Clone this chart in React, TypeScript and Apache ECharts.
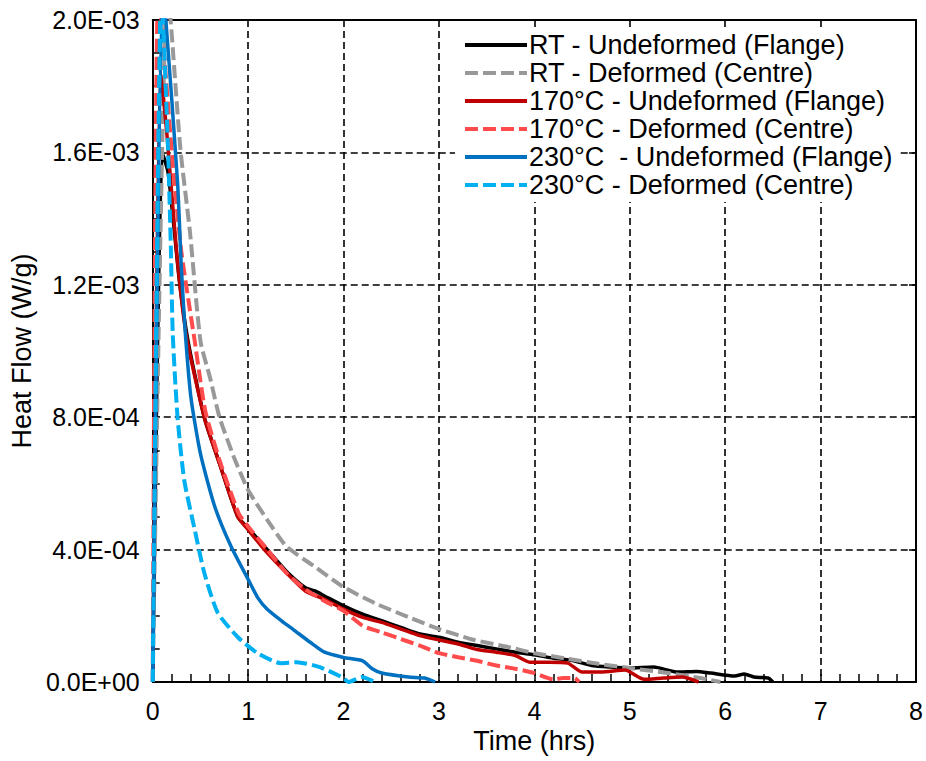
import React, { useEffect, useRef } from "react";
import * as echarts from "echarts";

// Time (hrs) / heat flow (units of 1E-4 W/g) pairs
const seriesNames = [
  "RT - Undeformed (Flange)",
  "RT - Deformed (Centre)",
  "170°C - Undeformed (Flange)",
  "170°C - Deformed (Centre)",
  "230°C  - Undeformed (Flange)",
  "230°C - Deformed (Centre)",
];

const rtUndeformed: [number, number][] = [
  [0, 0], [0.1, 16.0], [0.16, 15.4], [0.21, 14.1], [0.28, 12.1], [0.37, 10.3],
  [0.54, 8.0], [0.7, 6.6], [0.89, 5.0], [1.0, 4.65], [1.2, 4.0], [1.4, 3.35],
  [1.6, 2.85], [1.7, 2.75], [1.8, 2.6], [2.0, 2.3], [2.2, 2.05], [2.4, 1.85],
  [2.6, 1.65], [2.8, 1.45], [3.0, 1.35], [3.2, 1.2], [3.4, 1.1], [3.6, 1.0],
  [3.8, 0.9], [4.0, 0.82], [4.2, 0.72], [4.4, 0.65], [4.6, 0.5], [4.8, 0.45],
  [5.0, 0.42], [5.25, 0.45], [5.5, 0.3], [5.7, 0.32], [5.85, 0.27], [6.1, 0.18],
  [6.2, 0.24], [6.3, 0.15], [6.45, 0.12], [6.5, 0],
];

const rtDeformed: [number, number][] = [
  [0, 0], [0.15, 21.0], [0.19, 19.9], [0.29, 16.1], [0.39, 13.6], [0.5, 10.3],
  [0.6, 9.2], [0.7, 8.0], [0.85, 6.8], [1.0, 5.8], [1.2, 4.9], [1.4, 4.1],
  [1.69, 3.5], [2.0, 2.87], [2.33, 2.38], [2.68, 1.96], [3.0, 1.6],
  [3.37, 1.27], [3.72, 1.06], [4.0, 0.87], [4.31, 0.72], [4.67, 0.55],
  [5.0, 0.42], [5.4, 0.27], [5.74, 0.12], [5.95, 0],
];

const t170Undeformed: [number, number][] = [
  [0, 0], [0.08, 18.5], [0.15, 16.5], [0.25, 13.0], [0.35, 10.5], [0.54, 8.0],
  [0.7, 6.6], [0.89, 5.0], [1.0, 4.6], [1.17, 4.0], [1.4, 3.3], [1.6, 2.75],
  [1.8, 2.5], [2.0, 2.2], [2.2, 1.95], [2.4, 1.8], [2.6, 1.6], [2.8, 1.4],
  [3.0, 1.27], [3.2, 1.15], [3.4, 0.98], [3.6, 0.9], [3.8, 0.8], [3.95, 0.6],
  [4.15, 0.6], [4.35, 0.57], [4.5, 0.3], [4.7, 0.3], [4.95, 0.36], [5.15, 0.08],
  [5.35, 0.12], [5.55, 0.15], [5.72, 0],
];

const t170Deformed: [number, number][] = [
  [0, 0], [0.06, 21.0], [0.2, 16.0], [0.3, 13.0], [0.44, 10.3], [0.55, 8.2],
  [0.7, 6.7], [0.9, 5.1], [1.0, 4.7], [1.2, 4.0], [1.4, 3.3], [1.6, 2.8],
  [1.8, 2.45], [2.0, 2.15], [2.2, 1.7], [2.4, 1.5], [2.6, 1.3], [2.8, 1.1],
  [3.0, 0.87], [3.2, 0.75], [3.4, 0.64], [3.6, 0.5], [3.8, 0.4], [4.0, 0.27],
  [4.2, 0.08], [4.3, 0.12], [4.42, 0.12], [4.47, 0],
];

const t230Undeformed: [number, number][] = [
  [0, 0], [0.1, 21.0], [0.14, 19.9], [0.26, 15.1], [0.3, 12.5], [0.34, 10.6],
  [0.4, 8.6], [0.5, 6.9], [0.65, 5.3], [0.82, 4.1], [1.0, 3.1], [1.1, 2.55],
  [1.2, 2.2], [1.35, 1.85], [1.48, 1.57], [1.65, 1.2], [1.8, 0.9], [2.0, 0.74],
  [2.2, 0.64], [2.3, 0.4], [2.4, 0.27], [2.68, 0.15], [2.85, 0.12], [2.96, 0],
];

const t230Deformed: [number, number][] = [
  [0, 0], [0.09, 21.0], [0.16, 16.1], [0.19, 13.1], [0.21, 10.5], [0.26, 8.0],
  [0.33, 6.1], [0.44, 4.6], [0.54, 3.3], [0.68, 2.1], [0.89, 1.36], [1.1, 0.87],
  [1.34, 0.57], [1.51, 0.6], [1.75, 0.45], [2.0, 0.12], [2.05, 0], [2.19, 0.15],
  [2.33, 0],
];

const seriesData = [rtUndeformed, rtDeformed, t170Undeformed, t170Deformed, t230Undeformed, t230Deformed];
const seriesColors = ["#000000", "#999999", "#C00000", "#FF4B4B", "#0070C0", "#00B0F0"];
const seriesDashed = [false, true, false, true, false, true];

const xTicks = { min: 0, max: 8, interval: 1 };
const yTicks = { min: 0, max: 0.002, interval: 0.0004 };

function fmtExp(v: number): string {
  const s = v.toExponential(1);
  const [m, e] = s.split("e");
  const sign = e[0] === "-" ? "-" : "+";
  const digits = e.replace(/[+-]/, "").padStart(2, "0");
  return `${m}E${sign}${digits}`;
}

export default function App() {
  const ref = useRef<HTMLDivElement>(null);
  useEffect(() => {
    document.body.style.margin = "0";
    if (!ref.current) return;
    const chart = echarts.init(ref.current, undefined, { renderer: "svg" });
    const font = "'Liberation Sans', Arial, sans-serif";
    const gridLine = { show: true, lineStyle: { color: "#000", width: 1.6, type: [7, 4] as any } };
    chart.setOption({
      animation: false,
      backgroundColor: "#fff",
      textStyle: { fontFamily: font },
      grid: { left: 150, right: 10, top: 20, bottom: 79, containLabel: false },
      legend: {
        orient: "vertical",
        left: 455,
        top: 31,
        padding: [0, 6, 3, 8],
        backgroundColor: "#fff",
        itemWidth: 62,
        itemHeight: 14,
        itemGap: 0,
        data: seriesNames,
        itemStyle: { opacity: 0 },
        lineStyle: { width: 4 },
        textStyle: { fontSize: 27, color: "#000", fontFamily: font, lineHeight: 28, padding: [0, 0, 0, -3] },
      },
      xAxis: [
        {
          type: "value",
          min: xTicks.min,
          max: xTicks.max,
          interval: xTicks.interval,
          name: "Time (hrs)",
          nameLocation: "middle",
          nameGap: 40,
          nameTextStyle: { fontSize: 27, color: "#000", fontFamily: font },
          axisLine: { show: true, onZero: false, lineStyle: { color: "#000", width: 2 } },
          axisTick: { show: true, inside: true, length: 8, lineStyle: { color: "#000", width: 1.5 } },
          minorTick: { show: true, splitNumber: 5, length: 8, lineStyle: { color: "#000", width: 1.5 } },
          axisLabel: { fontSize: 25, color: "#000", margin: 16, fontFamily: font },
          splitLine: gridLine,
        },
        {
          type: "value",
          position: "top",
          min: xTicks.min,
          max: xTicks.max,
          interval: xTicks.interval,
          axisLine: { show: true, onZero: false, lineStyle: { color: "#000", width: 2 } },
          axisTick: { show: false },
          axisLabel: { show: false },
          splitLine: { show: false },
        },
      ],
      yAxis: [
        {
          type: "value",
          min: yTicks.min,
          max: yTicks.max,
          interval: yTicks.interval,
          name: "Heat Flow (W/g)",
          nameLocation: "middle",
          nameGap: 114,
          nameTextStyle: { fontSize: 27, color: "#000", fontFamily: font },
          axisLine: { show: true, onZero: false, lineStyle: { color: "#000", width: 2 } },
          axisTick: { show: true, inside: true, length: 7, lineStyle: { color: "#000", width: 1.5 } },
          minorTick: { show: true, splitNumber: 4, length: 7, lineStyle: { color: "#000", width: 1.5 } },
          axisLabel: { fontSize: 25, color: "#000", margin: 13, fontFamily: font, formatter: (v: number) => fmtExp(v) },
          splitLine: gridLine,
        },
        {
          type: "value",
          position: "right",
          min: yTicks.min,
          max: yTicks.max,
          interval: yTicks.interval,
          axisLine: { show: true, onZero: false, lineStyle: { color: "#000", width: 2 } },
          axisTick: { show: true, inside: true, length: 7, lineStyle: { color: "#000", width: 1.5 } },
          axisLabel: { show: false },
          splitLine: { show: false },
        },
      ],
      series: seriesNames.map((name, i) => ({
        name,
        type: "line",
        xAxisIndex: 0,
        yAxisIndex: 0,
        showSymbol: false,
        symbol: "none",
        smooth: 0.2,
        clip: true,
        color: seriesColors[i],
        lineStyle: {
          color: seriesColors[i],
          width: seriesDashed[i] ? 4 : 3.5,
          type: seriesDashed[i] ? ([13, 5] as any) : "solid",
        },
        data: seriesData[i].map(([t, v]) => [t, v * 1e-4]),
      })),
    });
    return () => chart.dispose();
  }, []);
  return <div ref={ref} style={{ width: 926, height: 761 }} />;
}
